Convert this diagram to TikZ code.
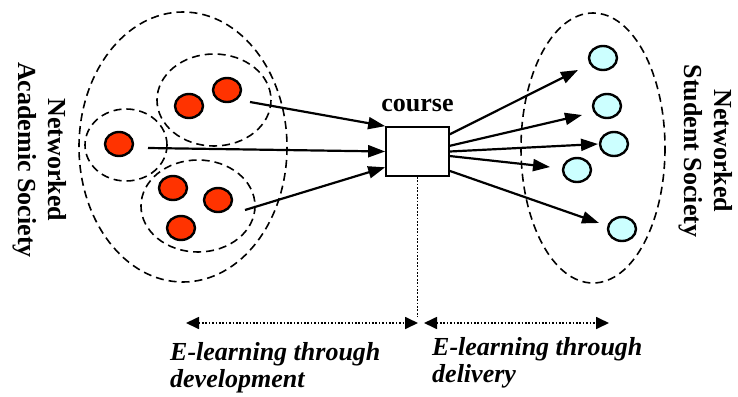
\documentclass[tikz,border=0pt]{standalone}
\usepackage{fontspec}
\setmainfont{Liberation Serif}
\usepackage{xcolor}
\usetikzlibrary{shapes.geometric,arrows.meta,positioning}

\definecolor{dotred}{RGB}{255,51,0}
\definecolor{dotcyan}{RGB}{204,255,255}

\begin{document}
\begin{tikzpicture}[x=1pt, y=-1pt,
    group/.style={draw, line width=1.6pt, dash pattern=on 8pt off 5pt},
    member/.style={ellipse, draw, line width=2.4pt, inner sep=0pt,
        minimum width=28pt, minimum height=24pt},
    link/.style={line width=2.2pt, -{Triangle[length=17pt,width=12pt]}},
    span/.style={line width=1.7pt, dash pattern=on 1.7pt off 1.7pt,
        {Triangle[length=13pt,width=12pt]}-{Triangle[length=13pt,width=12pt]}},
    big/.style={font=\fontsize{26}{30}\selectfont\bfseries, inner sep=0pt}]
    \useasboundingbox (0,0) rectangle (738,396);

    % Academic side: groups of teachers
    \draw[group] (183,147) ellipse (104 and 135);
    \draw[group] (214,100) ellipse (57 and 46);
    \draw[group] (126,145) ellipse (41 and 36);
    \draw[group] (198,206) ellipse (57 and 46);
    \foreach \p [count=\i] in {(189,106),(227,90),(119,144),(173,188),(218,200),(181,228)}
        \node[member, fill=dotred] (a\i) at \p {};

    % Student side
    \draw[group] (593,148) ellipse (72 and 135);
    \foreach \p [count=\i] in {(603,58),(607,106),(614,144),(577,170),(622,229)}
        \node[member, fill=dotcyan] (s\i) at \p {};

    % The course box
    \node[draw, line width=1.7pt, minimum width=63pt, minimum height=49pt] (box) at (417.5,151.5) {};
    \node[big, above=14pt of box] (course) {course};

    % Arrows into the course
    \coordinate (in1) at (250,102);
    \coordinate (in2) at (148,148);
    \coordinate (in3) at (245,210);
    \draw[link] (in1) -- (box.north west);
    \draw[link] (in2) -- (box.west);
    \draw[link] (in3) -- (box.-154);

    % Arrows out to the students
    \coordinate (out1) at (578,70);
    \coordinate (out2) at (582,115);
    \coordinate (out3) at (598,144);
    \coordinate (out4) at (550,167);
    \coordinate (out5) at (599,223);
    \draw[link] (box.28) -- (out1);
    \draw[link] (box.10) -- (out2);
    \draw[link] (box.east) -- (out3);
    \draw[link] (box.-8) -- (out4);
    \draw[link] (box.-31) -- (out5);

    % Side labels
    \node[big, rotate=-90, align=center] (acad) at (40,160) {Networked\\Academic Society};
    \node[big, rotate=-90, align=center] (stud) at (706,151) {Networked\\Student Society};

    % Bottom spans
    \coordinate (split) at (417.5,317);
    \coordinate (devL) at (186,323);
    \coordinate (devR) at (418,323);
    \coordinate (delL) at (424,323);
    \coordinate (delR) at (609,323);
    \draw[line width=1.7pt, dash pattern=on 1.7pt off 1.7pt] (box.south) -- (split);
    \draw[span] (devL) -- (devR);
    \draw[span] (delL) -- (delR);

    \node[big, font=\fontsize{26}{27}\selectfont\bfseries\itshape, align=left, anchor=north west]
        (dev) at (170,342) {E-learning through\\development};
    \node[big, font=\fontsize{26}{27}\selectfont\bfseries\itshape, align=left, anchor=north west]
        (del) at (432,337) {E-learning through\\delivery};
\end{tikzpicture}
\end{document}
